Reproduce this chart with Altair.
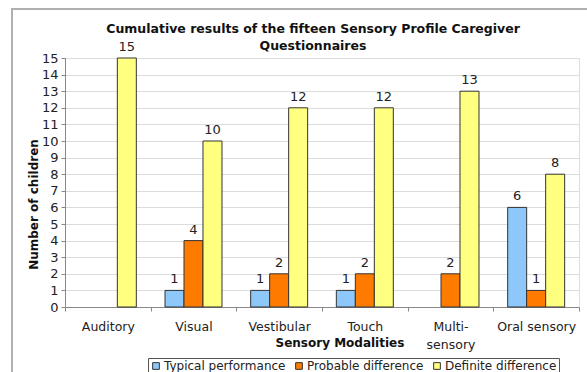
import altair as alt
import pandas as pd

categories = ["Auditory", "Visual", "Vestibular", "Touch", "Multi-sensory", "Oral sensory"]
series = ["Typical performance", "Probable difference", "Definite difference"]
typical = [0, 1, 1, 1, 0, 6]
probable = [0, 4, 2, 2, 2, 1]
definite = [15, 10, 12, 12, 13, 8]
colors = ["#8ec8fa", "#ff7b00", "#ffff80"]

rows = []
for s, vals in zip(series, [typical, probable, definite]):
    for c, v in zip(categories, vals):
        rows.append({"Modality": c, "Series": s, "Count": v})
df = pd.DataFrame(rows)

FONT = "DejaVu Sans"

x_enc = alt.X(
    "Modality:N",
    sort=categories,
    scale=alt.Scale(paddingInner=0, paddingOuter=0),
    axis=alt.Axis(
        title="Sensory Modalities",
        titleFont=FONT, titleFontSize=12, titleFontWeight="bold", titleColor="#111",
        titleX=210, titleY=35, titleBaseline="middle", titleAnchor="start",
        labelAngle=0, labelFont=FONT, labelFontSize=12.5, labelColor="#222",
        labelPadding=9, labelLineHeight=18,
        labelExpr="datum.label == 'Multi-sensory' ? ['Multi-', 'sensory'] : datum.label",
        tickBand="extent", tickSize=4, tickColor="#888",
        domainColor="#888", grid=False,
    ),
)
xo_enc = alt.XOffset("Series:N", sort=series, scale=alt.Scale(paddingOuter=0.755, paddingInner=0))

base = alt.Chart(df).transform_filter("datum.Count > 0")

bars = base.mark_bar(stroke="#333", strokeWidth=1).encode(
    x=x_enc,
    xOffset=xo_enc,
    y=alt.Y(
        "Count:Q",
        scale=alt.Scale(domain=[0, 15], nice=False),
        axis=alt.Axis(
            values=list(range(0, 16)), tickCount=16,
            title="Number of children",
            titleFont=FONT, titleFontSize=12, titleFontWeight="bold", titleColor="#111",
            titleX=-32, titleY=146, titleBaseline="middle", titleAnchor="middle",
            labelFont=FONT, labelFontSize=13, labelColor="#222", labelPadding=3,
            tickSize=4, tickColor="#888", domainColor="#888",
            grid=True, gridColor="#dcdcdc",
        ),
    ),
    color=alt.Color(
        "Series:N", sort=series,
        scale=alt.Scale(domain=series, range=colors),
        legend=alt.Legend(
            title=None, orient="none", direction="horizontal",
            legendX=83, legendY=300,
            symbolType="square", symbolSize=45, symbolStrokeColor="#333", symbolStrokeWidth=1,
            labelFont=FONT, labelFontSize=12, labelColor="#222", labelOffset=2,
            columnPadding=7, padding=2, strokeColor="#555", fillColor="white",
        ),
    ),
)

labels = base.mark_text(baseline="bottom", dy=-4, font=FONT, fontSize=13, color="#222").encode(
    x=alt.X("Modality:N", sort=categories),
    xOffset=alt.XOffset("Series:N", sort=series),
    y="Count:Q",
    text="Count:Q",
)

frame_left = alt.Chart(df).mark_rule(stroke="#b0b0b0", strokeWidth=2).encode(
    x=alt.value(-53), y=alt.value(-49), y2=alt.value(330)
)
frame_top = alt.Chart(df).mark_rule(stroke="#b0b0b0", strokeWidth=2).encode(
    x=alt.value(-54), x2=alt.value(522), y=alt.value(-49)
)

chart = alt.layer(frame_left, frame_top, bars, labels).properties(
    width=514, height=249,
    padding={"left": 65, "top": 58, "right": 8, "bottom": 65},
    autosize=alt.AutoSizeParams(type="none"),
    title=alt.TitleParams(
        ["Cumulative results of the fifteen Sensory Profile Caregiver", "Questionnaires"],
        font=FONT, fontSize=12.5, fontWeight="bold", color="#111",
        anchor="middle", frame="group", offset=-44, lineHeight=17, dx=-9,
    ),
).configure_view(stroke=None).configure(background="white")

chart.save("out.html", embed_options={"renderer": "svg", "actions": False})
